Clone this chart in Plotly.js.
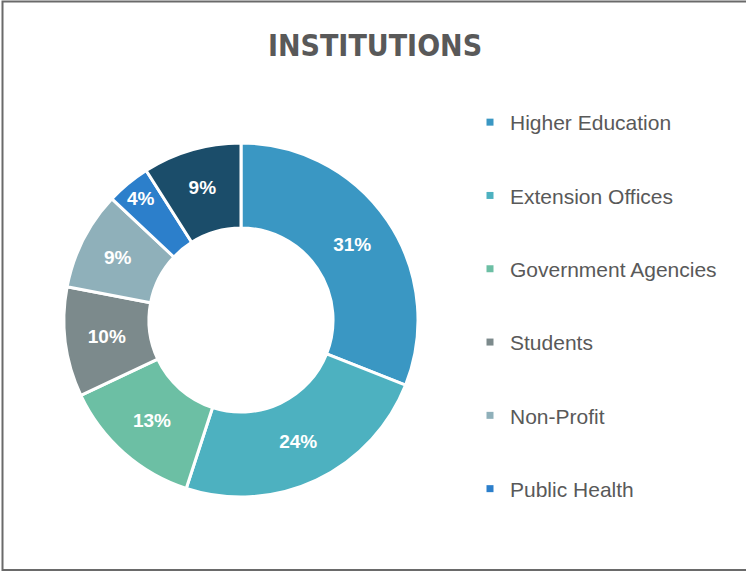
<!DOCTYPE html>
<html>
<head>
<meta charset="utf-8">
<script src="https://cdn.plot.ly/plotly-3.0.1.min.js"></script>
<style>
html,body{margin:0;padding:0;background:#fff;}
#chart{width:746px;height:573px;}
</style>
</head>
<body>
<div id="chart"></div>
<script>
// Data
const sliceLabels = ["Higher Education", "Extension Offices", "Government Agencies", "Students", "Non-Profit", "Public Health", "Other"];
const sliceValues = [31, 24, 13, 10, 9, 4, 9];
const sliceColors = ["#3A97C3", "#4DB1C0", "#6CBFA4", "#7C8A8C", "#8FB0BA", "#2C7FCB", "#1B4D6A"];
const legendLabels = ["Higher Education", "Extension Offices", "Government Agencies", "Students", "Non-Profit", "Public Health"];

const W = 746, H = 573;
const cx = 241, cy = 320, R = 177;

const traces = [{
  type: "pie",
  labels: sliceLabels,
  values: sliceValues,
  sort: false,
  direction: "clockwise",
  rotation: 0,
  hole: 0.52,
  marker: { colors: sliceColors, line: { color: "#ffffff", width: 3 } },
  texttemplate: "%{percent:.0%}",
  textposition: "inside",
  insidetextorientation: "horizontal",
  textfont: { family: "Liberation Sans, Arial, sans-serif", size: 19, color: "#ffffff", weight: "bold" },
  showlegend: false,
  hoverinfo: "label+percent",
  domain: { x: [(cx - R) / W, (cx + R) / W], y: [(H - cy - R) / H, (H - cy + R) / H] }
}];

legendLabels.forEach(function (name, i) {
  traces.push({
    type: "scatter",
    mode: "markers",
    x: [null],
    y: [null],
    name: name,
    legendgroup: "g" + i,
    marker: { symbol: "square", size: 7, color: sliceColors[i] },
    showlegend: true,
    hoverinfo: "skip"
  });
});

const layout = {
  width: W,
  height: H,
  margin: { l: 0, r: 0, t: 0, b: 0 },
  paper_bgcolor: "#ffffff",
  plot_bgcolor: "#ffffff",
  title: {
    text: "<b>INSTITUTIONS</b>",
    font: { family: "Liberation Sans Narrow, DejaVu Sans Condensed, Arial Narrow, sans-serif", size: 30, color: "#595959" },
    x: 375 / W,
    xanchor: "center",
    xref: "paper",
    y: 1 - 45 / H,
    yref: "paper",
    yanchor: "middle"
  },
  xaxis: { visible: false, fixedrange: true },
  yaxis: { visible: false, fixedrange: true },
  showlegend: true,
  legend: {
    x: 470 / W,
    xanchor: "left",
    y: 1 - 102 / H,
    yanchor: "top",
    traceorder: "grouped",
    tracegroupgap: 43,
    font: { family: "Liberation Sans, Arial, sans-serif", size: 21, color: "#595959" },
    bgcolor: "rgba(0,0,0,0)",
    itemclick: false,
    itemdoubleclick: false
  },
  shapes: [{
    type: "path",
    xref: "paper",
    yref: "paper",
    path: "M " + (746 / W) + "," + (1 - 1.5 / H) + " L " + (2.5 / W) + "," + (1 - 1.5 / H) +
          " L " + (2.5 / W) + "," + (1 - 570 / H) + " L " + (746 / W) + "," + (1 - 570 / H),
    line: { color: "#6a6a6a", width: 2 }
  }]
};

Plotly.newPlot("chart", traces, layout, { displayModeBar: false, staticPlot: false });
</script>
</body>
</html>
